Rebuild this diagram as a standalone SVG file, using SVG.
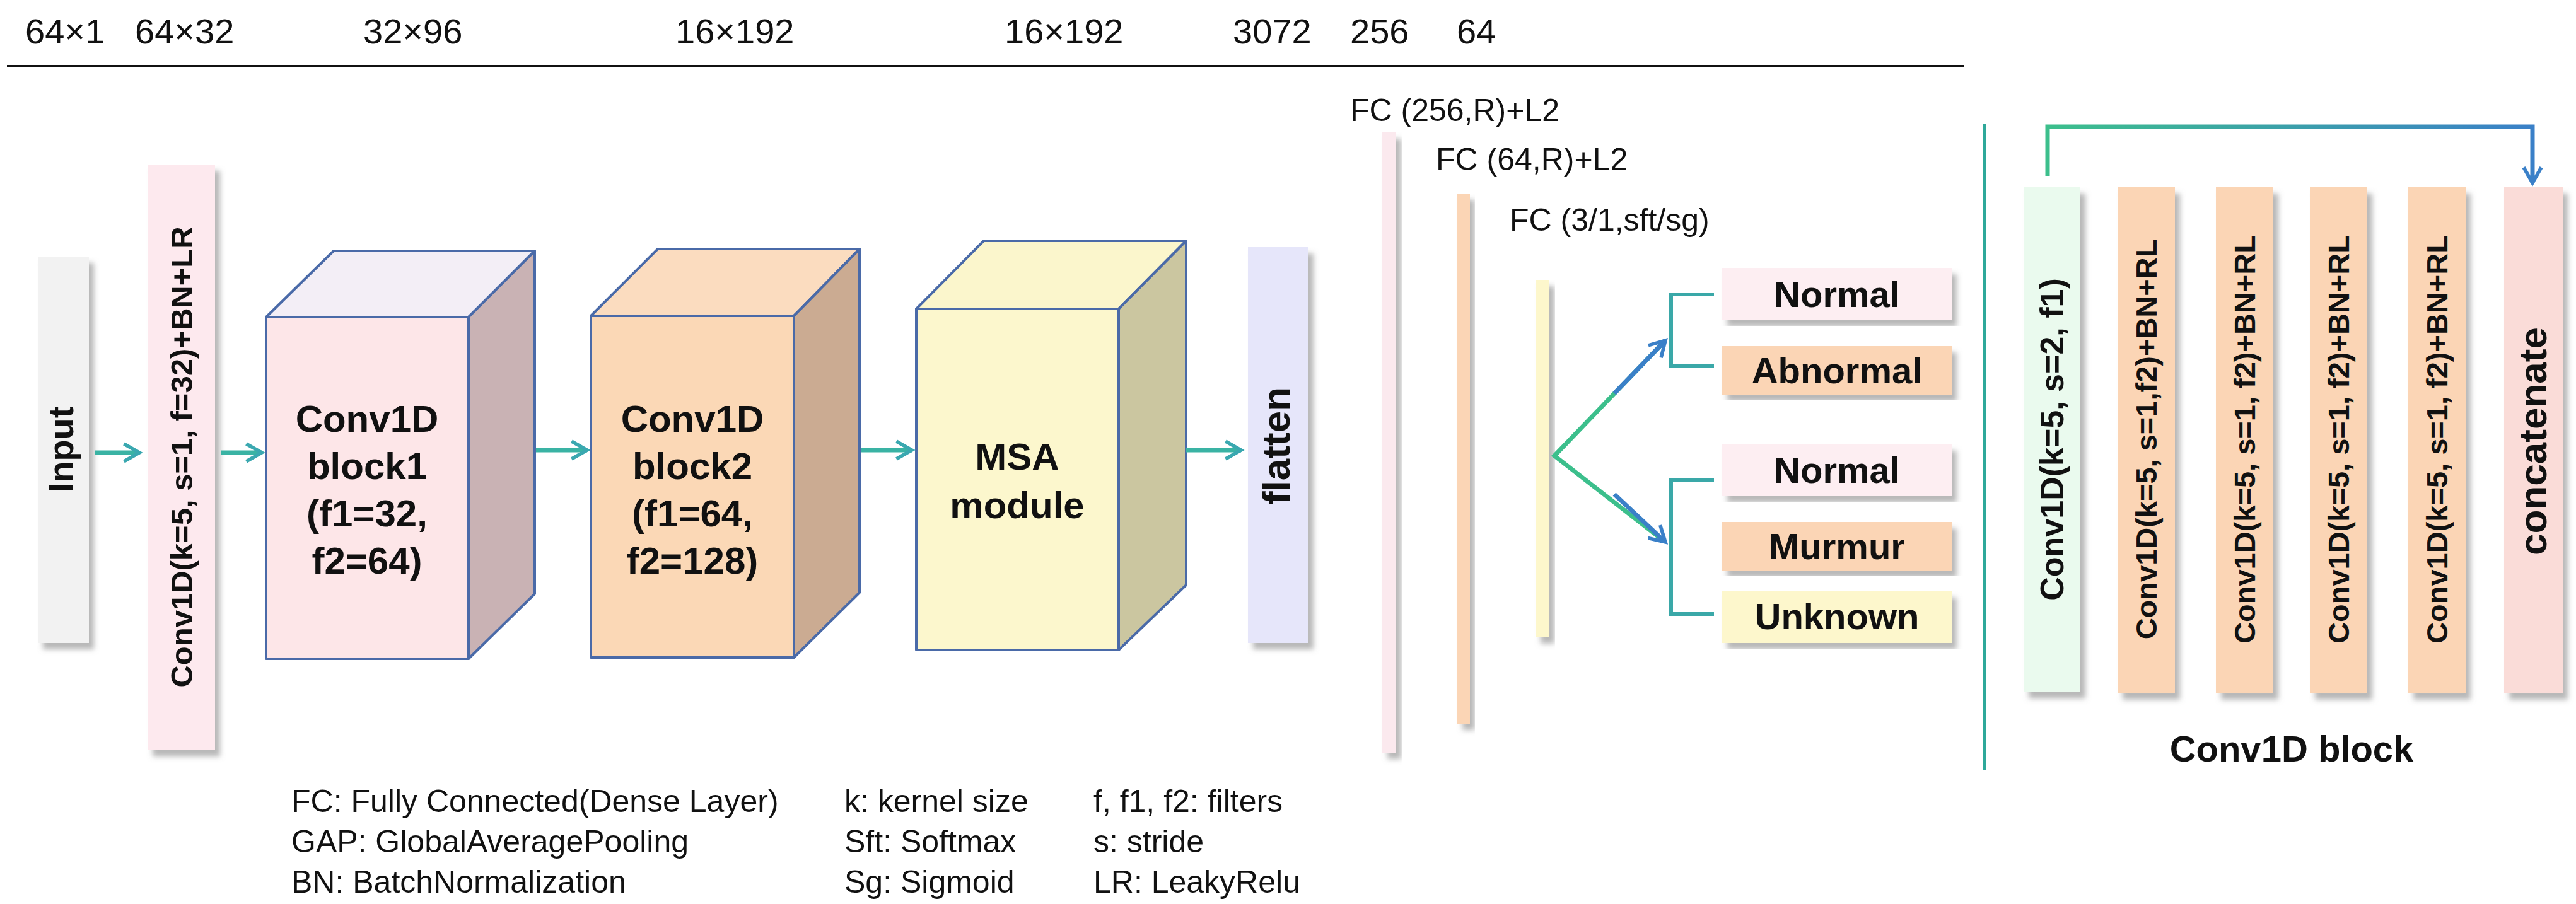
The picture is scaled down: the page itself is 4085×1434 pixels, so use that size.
<svg xmlns="http://www.w3.org/2000/svg" width="4085" height="1434" viewBox="0 0 4085 1434">
<defs>
<filter id="sh" x="-20%" y="-5%" width="160%" height="115%"><feDropShadow dx="8" dy="10" stdDeviation="4" flood-color="#888" flood-opacity="0.6"/></filter>
<linearGradient id="gs" gradientUnits="userSpaceOnUse" x1="3247" y1="0" x2="4016" y2="0"><stop offset="0" stop-color="#3cbf8c"/><stop offset="1" stop-color="#3a80c8"/></linearGradient>
<marker id="ah" viewBox="0 0 10 10" refX="8" refY="5" markerWidth="5" markerHeight="5" orient="auto" markerUnits="strokeWidth"><path d="M1,1 L8,5 L1,9" fill="none" stroke="#3aa8b0" stroke-width="1.6"/></marker>
<marker id="ab" viewBox="0 0 10 10" refX="8" refY="5" markerWidth="5" markerHeight="5" orient="auto" markerUnits="strokeWidth"><path d="M1,1 L8,5 L1,9" fill="none" stroke="#3a80c8" stroke-width="1.6"/></marker>
</defs>
<style>
.n{font-family:"Liberation Sans",Arial,sans-serif;font-size:56px;fill:#111}
.l{font-family:"Liberation Sans",Arial,sans-serif;font-size:50px;fill:#111}
.b{font-family:"Liberation Sans",Arial,sans-serif;font-weight:bold;fill:#111;text-anchor:middle}
.cube{stroke:#4a6aa8;stroke-width:4;stroke-linejoin:round}
.ar{stroke:#3ab3a4;stroke-width:7;fill:none;marker-end:url(#ah)}
.br{stroke:#3aa8a8;stroke-width:6;fill:none}
</style>
<g id="dims">
<text class="n" x="40" y="69">64×1</text>
<text class="n" x="214" y="69">64×32</text>
<text class="n" x="576" y="69">32×96</text>
<text class="n" x="1071" y="69">16×192</text>
<text class="n" x="1593" y="69">16×192</text>
<text class="n" x="1955" y="69">3072</text>
<text class="n" x="2141" y="69">256</text>
<text class="n" x="2310" y="69">64</text>
<line x1="11" y1="105" x2="3114" y2="105" stroke="#111" stroke-width="4"/>
</g>
<g id="input"><rect x="60" y="407" width="81" height="613" fill="#f2f2f2" filter="url(#sh)"/>
<text class="b" font-size="56" transform="translate(116,713) rotate(-90)">Input</text></g>
<g id="conv0"><rect x="234" y="261" width="107" height="929" fill="#fde9ee" filter="url(#sh)"/>
<text class="b" font-size="49" transform="translate(305,725) rotate(-90)">Conv1D(k=5, s=1, f=32)+BN+LR</text></g>
<g id="block1">
<polygon class="cube" points="422,503 529,398 848,398 743,503" fill="#f3eef6"/>
<polygon class="cube" points="743,503 848,398 848,942 743,1045" fill="#c9b2b4"/>
<rect class="cube" x="422" y="503" width="321" height="542" fill="#fde6e8"/>
<text class="b" font-size="60" x="582" y="685">Conv1D</text>
<text class="b" font-size="60" x="582" y="760">block1</text>
<text class="b" font-size="60" x="582" y="835">(f1=32,</text>
<text class="b" font-size="60" x="582" y="910">f2=64)</text>
</g>
<g id="block2">
<polygon class="cube" points="937,501 1043,395 1363,395 1259,501" fill="#fbdcbf"/>
<polygon class="cube" points="1259,501 1363,395 1363,940 1259,1043" fill="#cbab92"/>
<rect class="cube" x="937" y="501" width="322" height="542" fill="#fbd8b6"/>
<text class="b" font-size="60" x="1098" y="685">Conv1D</text>
<text class="b" font-size="60" x="1098" y="760">block2</text>
<text class="b" font-size="60" x="1098" y="835">(f1=64,</text>
<text class="b" font-size="60" x="1098" y="910">f2=128)</text>
</g>
<g id="msa">
<polygon class="cube" points="1453,490 1560,382 1881,382 1774,490" fill="#fbf6cc"/>
<polygon class="cube" points="1774,490 1881,382 1881,928 1774,1031" fill="#cbc6a0"/>
<rect class="cube" x="1453" y="490" width="321" height="541" fill="#fcf7cd"/>
<text class="b" font-size="60" x="1613" y="745">MSA</text>
<text class="b" font-size="60" x="1613" y="822">module</text>
</g>
<g id="flatten"><rect x="1979" y="392" width="96" height="628" fill="#e6e6fa" filter="url(#sh)"/>
<text class="b" font-size="62" transform="translate(2045,707) rotate(-90)">flatten</text></g>
<g id="fc">
<text class="l" x="2141" y="192">FC (256,R)+L2</text>
<text class="l" x="2277" y="270">FC (64,R)+L2</text>
<text class="l" x="2394" y="366">FC (3/1,sft/sg)</text>
<rect x="2192" y="210" width="22" height="984" fill="#fbe9ee" filter="url(#sh)"/>
<rect x="2311" y="307" width="20" height="841" fill="#fbd5b5" filter="url(#sh)"/>
<rect x="2435" y="444" width="22" height="567" fill="#fdf7cc" filter="url(#sh)"/>
</g>
<g id="outputs">
<rect x="2731" y="425" width="364" height="83" fill="#fdeef2" filter="url(#sh)"/>
<text class="b" font-size="58" x="2913" y="487">Normal</text>
<rect x="2731" y="549" width="364" height="78" fill="#fbd5b5" filter="url(#sh)"/>
<text class="b" font-size="58" x="2913" y="608">Abnormal</text>
<rect x="2731" y="705" width="364" height="82" fill="#fdeef2" filter="url(#sh)"/>
<text class="b" font-size="58" x="2913" y="766">Normal</text>
<rect x="2731" y="828" width="364" height="78" fill="#fbd5b5" filter="url(#sh)"/>
<text class="b" font-size="58" x="2913" y="887">Murmur</text>
<rect x="2731" y="938" width="364" height="82" fill="#fdf7cc" filter="url(#sh)"/>
<text class="b" font-size="58" x="2913" y="998">Unknown</text>
</g>
<g id="convblock">
<rect x="3209" y="297" width="90" height="801" fill="#eafaee" filter="url(#sh)"/>
<text class="b" font-size="52" transform="translate(3272,697) rotate(-90)">Conv1D(k=5, s=2, f1)</text>
<rect x="3358" y="297" width="91" height="803" fill="#fbd5b5" filter="url(#sh)"/>
<text class="b" font-size="47" transform="translate(3420,697) rotate(-90)">Conv1D(k=5, s=1,f2)+BN+RL</text>
<rect x="3514" y="297" width="91" height="803" fill="#fbd5b5" filter="url(#sh)"/>
<text class="b" font-size="47" transform="translate(3576,697) rotate(-90)">Conv1D(k=5, s=1, f2)+BN+RL</text>
<rect x="3663" y="297" width="91" height="803" fill="#fbd5b5" filter="url(#sh)"/>
<text class="b" font-size="47" transform="translate(3725,697) rotate(-90)">Conv1D(k=5, s=1, f2)+BN+RL</text>
<rect x="3819" y="297" width="91" height="803" fill="#fbd5b5" filter="url(#sh)"/>
<text class="b" font-size="47" transform="translate(3881,697) rotate(-90)">Conv1D(k=5, s=1, f2)+BN+RL</text>
<rect x="3971" y="297" width="93" height="803" fill="#fadcd8" filter="url(#sh)"/>
<text class="b" font-size="62" transform="translate(4038,700) rotate(-90)">concatenate</text>
<text class="b" font-size="58" x="3634" y="1208">Conv1D block</text>
</g>
<g id="legend">
<text class="l" x="462" y="1288">FC: Fully Connected(Dense Layer)</text>
<text class="l" x="462" y="1352">GAP: GlobalAveragePooling</text>
<text class="l" x="462" y="1416">BN: BatchNormalization</text>
<text class="l" x="1339" y="1288">k: kernel size</text>
<text class="l" x="1339" y="1352">Sft: Softmax</text>
<text class="l" x="1339" y="1416">Sg: Sigmoid</text>
<text class="l" x="1734" y="1288">f, f1, f2: filters</text>
<text class="l" x="1734" y="1352">s: stride</text>
<text class="l" x="1734" y="1416">LR: LeakyRelu</text>
</g>
<g id="connectors">
<line class="ar" x1="150" y1="718" x2="221" y2="718"/>
<line class="ar" x1="351" y1="718" x2="415" y2="718"/>
<line class="ar" x1="850" y1="714" x2="931" y2="714"/>
<line class="ar" x1="1366" y1="714" x2="1446" y2="714"/>
<line class="ar" x1="1881" y1="714" x2="1968" y2="714"/>
<polyline points="2641,540 2465,723 2641,860" fill="none" stroke="#3cbf8c" stroke-width="7"/>
<line x1="2560" y1="624" x2="2641" y2="540" stroke="#3a80c8" stroke-width="7" marker-end="url(#ab)"/>
<line x1="2560" y1="784" x2="2641" y2="860" stroke="#3a80c8" stroke-width="7" marker-end="url(#ab)"/>
<path class="br" d="M2718,467 H2650 V581 H2718"/>
<path class="br" d="M2718,761 H2650 V974 H2718"/>
<line x1="3147" y1="197" x2="3147" y2="1221" stroke="#2fa89a" stroke-width="6"/>
<path d="M3247,279 V201 H4016 V290" fill="none" stroke="url(#gs)" stroke-width="7" marker-end="url(#ab)"/>
</g>
</svg>
